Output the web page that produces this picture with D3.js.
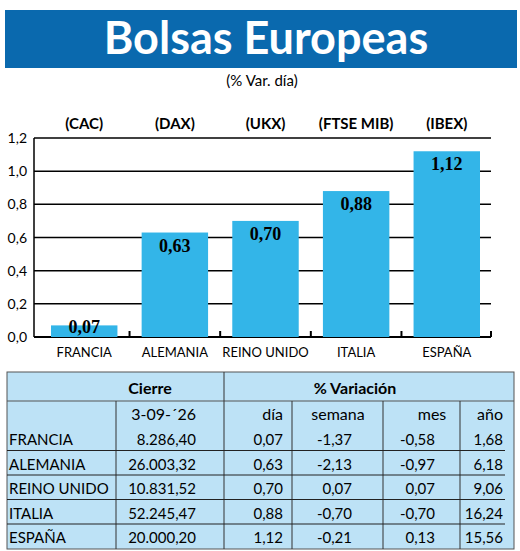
<!DOCTYPE html>
<html><head><meta charset="utf-8">
<script src="https://cdn.jsdelivr.net/npm/d3@7"></script>
<style>body{margin:0;background:#fff}</style></head><body>
<svg id="c" width="520" height="551"></svg>
<script>
const countries=["FRANCIA","ALEMANIA","REINO UNIDO","ITALIA","ESPAÑA"];
const indices=["(CAC)","(DAX)","(UKX)","(FTSE MIB)","(IBEX)"];
const dia=[0.07,0.63,0.70,0.88,1.12];
const cierre=["8.286,40","26.003,32","10.831,52","52.245,47","20.000,20"];
const semana=["-1,37","-2,13","0,07","-0,70","-0,21"];
const mes=["-0,58","-0,97","0,07","-0,70","0,13"];
const anio=["1,68","6,18","9,06","16,24","15,56"];
const yTicks=[0,0.2,0.4,0.6,0.8,1.0,1.2];
const F="Lato, 'Open Sans', sans-serif";
const svg=d3.select("#c");
const fmt=v=>d3.format(".2f")(v).replace(".",",");
svg.append("rect").attr("x",5).attr("y",10).attr("width",512).attr("height",58).attr("fill","#0a69ae");
svg.append("text").attr("x",266).attr("y",54).attr("text-anchor","middle").attr("fill","#fff")
 .attr("font-family",F).attr("font-weight","bold").attr("font-size",45).text("Bolsas Europeas");
svg.append("text").attr("x",262).attr("y",86).attr("text-anchor","middle").attr("font-family",F).attr("font-size",15).text("(% Var. día)");
const x=d3.scaleBand().domain(countries).range([51,480]).paddingInner(0.267).paddingOuter(0);
const y=d3.scaleLinear().domain([0,1.2]).range([337,138]);
const g=svg.append("g");
yTicks.forEach(t=>{
 g.append("line").attr("x1",34).attr("x2",491).attr("y1",y(t)).attr("y2",y(t)).attr("stroke","#000").attr("stroke-width",t==0?2:1.5);
 g.append("text").attr("x",27).attr("y",y(t)+5).attr("text-anchor","end").attr("font-family",F).attr("font-size",14).text(d3.format(".1f")(t).replace(".",","));
});
g.append("line").attr("x1",34).attr("x2",34).attr("y1",138).attr("y2",337).attr("stroke","#000").attr("stroke-width",1.5);
countries.forEach((c,i)=>{
 if(i>0){const xm=x(c)-x.step()*x.paddingInner()/2;g.append("line").attr("x1",xm).attr("x2",xm).attr("y1",331).attr("y2",337).attr("stroke","#000").attr("stroke-width",2);}
});
g.append("line").attr("x1",491).attr("x2",491).attr("y1",331).attr("y2",337).attr("stroke","#000").attr("stroke-width",2);
countries.forEach((c,i)=>{
 const cx=x(c)+x.bandwidth()/2;
 g.append("rect").attr("x",x(c)).attr("width",x.bandwidth()).attr("y",y(dia[i])).attr("height",y(0)-y(dia[i])).attr("fill","#33b5e8");
 g.append("text").attr("x",cx).attr("y",Math.min(y(dia[i])+19,333)).attr("text-anchor","middle").attr("font-family","'Liberation Serif',serif").attr("font-weight","bold").attr("font-size",18).text(fmt(dia[i]));
 g.append("text").attr("x",cx).attr("y",357).attr("text-anchor","middle").attr("font-family",F).attr("font-size",13).text(c);
 g.append("text").attr("x",cx).attr("y",129).attr("text-anchor","middle").attr("font-family",F).attr("font-weight","bold").attr("font-size",15).text(indices[i]);
});
// table
const cols=[7,116,224,292,383,460,514];
const t=svg.append("g");
t.append("rect").attr("x",7).attr("y",372).attr("width",507).attr("height",177).attr("fill","#bde2f6").attr("stroke","#555");
const rowY=[401,426,450.5,475,499.5,524,549];
t.append("line").attr("x1",7).attr("x2",514).attr("y1",401).attr("y2",401).attr("stroke","#555");
t.append("line").attr("x1",cols[2]).attr("x2",cols[2]).attr("y1",372).attr("y2",549).attr("stroke","#333");
cols.slice(1,6).forEach((cx,i)=>{if(i!=1)t.append("line").attr("x1",cx).attr("x2",cx).attr("y1",401).attr("y2",549).attr("stroke","#333");});
rowY.slice(2,6).forEach(ry=>t.append("line").attr("x1",7).attr("x2",505).attr("y1",ry).attr("y2",ry).attr("stroke","#222"));
const tt=(xx,yy,s,a,b,sz)=>t.append("text").attr("x",xx).attr("y",yy).attr("text-anchor",a).attr("font-family",F).attr("font-weight",b?"bold":"normal").attr("font-size",sz||15).text(s);
tt(150,394,"Cierre","middle",true,16);
tt(355,394,"% Variación","middle",true,16);
tt(196,420,"3-09-´26","end",false,16);
tt(283,420,"día","end",false,16);
tt(338,420,"semana","middle",false,16);
tt(432,420,"mes","middle",false,16);
tt(503,420,"año","end",false,16);
countries.forEach((c,i)=>{
 const yy=rowY[i+1]+19;
 tt(9,yy,c,"start");
 tt(196,yy,cierre[i],"end");
 tt(283,yy,fmt(dia[i]),"end");
 tt(352,yy,semana[i],"end");
 tt(435,yy,mes[i],"end");
 tt(503,yy,anio[i],"end");
});
</script></body></html>
